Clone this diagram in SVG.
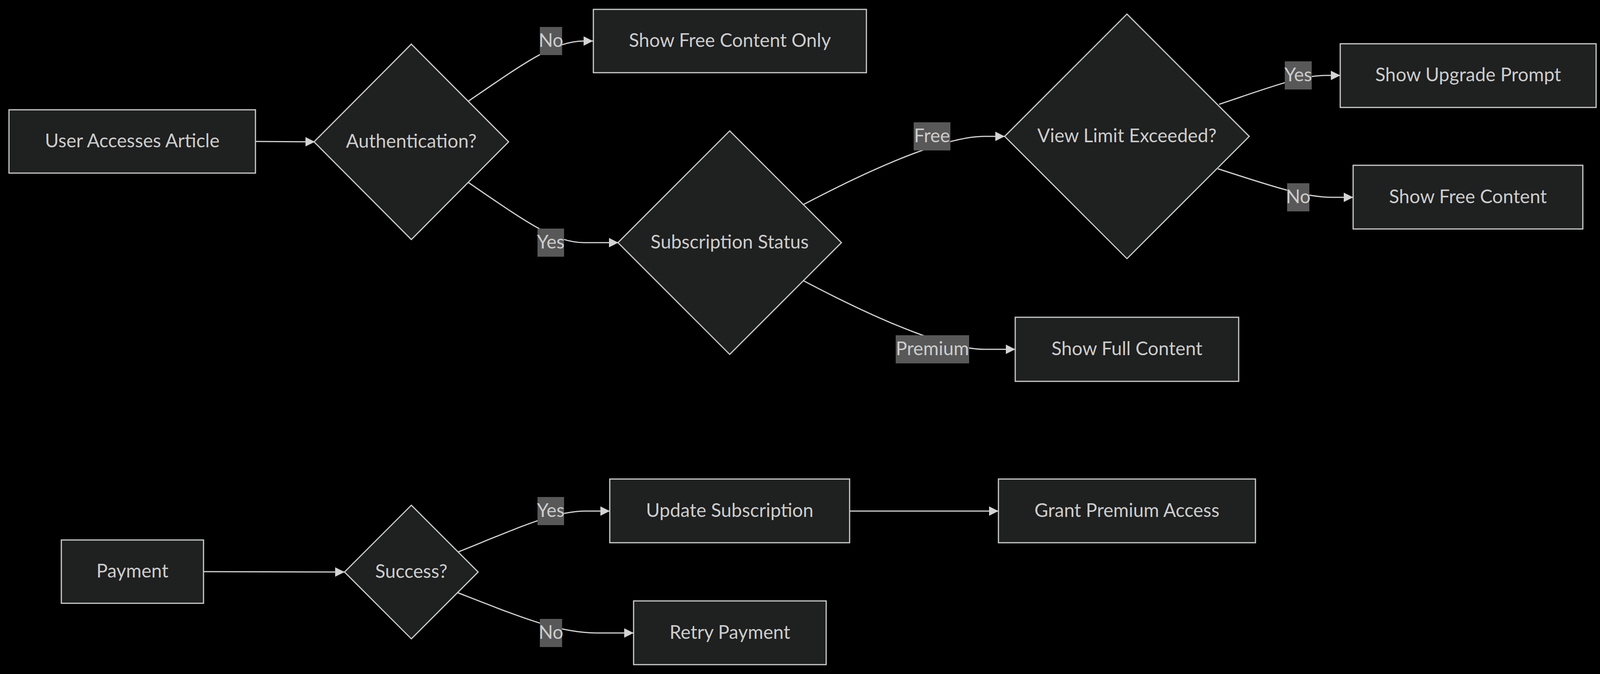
<svg xmlns="http://www.w3.org/2000/svg" width="4109" height="1725" viewBox="0 0 4109 1725">
<style>
.node rect,.node polygon{fill:#1f2020;stroke:#cccccc;stroke-width:3}
.node text{fill:#cccccc;font-family:Lato,"Liberation Sans",sans-serif;font-size:48px;text-anchor:middle}
.edge{fill:none;stroke:#d3d3d3;stroke-width:3;marker-end:url(#arrow)}
.lbl rect{fill:#585858}
.lbl text{fill:#cccccc;font-family:Lato,"Liberation Sans",sans-serif;font-size:48px;text-anchor:middle}
</style>
<defs>
<marker id="arrow" viewBox="0 0 10 10" refX="10" refY="5" markerUnits="userSpaceOnUse" markerWidth="24" markerHeight="24" orient="auto">
<path d="M0,0 L10,5 L0,10 z" fill="#d3d3d3"/>
</marker>
</defs>
<rect x="0" y="0" width="4109" height="1725" fill="#000000"/>
<g id="connectors">
<path class="edge" d="M654 362 L806 363"/>
<path class="edge" d="M1199 259 C1345 159,1420 105,1495 105 L1518 105"/>
<path class="edge" d="M1199 467 C1345 567,1420 621,1495 621 L1583 621"/>
<path class="edge" d="M2056 524 C2287 402,2440 349,2520 349 L2572 349"/>
<path class="edge" d="M2056 718 C2287 840,2440 894,2520 894 L2599 894"/>
<path class="edge" d="M3121 267 C3255 222,3330 193,3395 193 L3431 193"/>
<path class="edge" d="M3118 432 C3260 478,3340 505,3410 505 L3464 505"/>
<path class="edge" d="M521 1463 L882 1464"/>
<path class="edge" d="M1172 1413 C1336 1347,1420 1308,1500 1308 L1561 1308"/>
<path class="edge" d="M1172 1517 C1339 1582,1430 1620,1530 1620 L1622 1620"/>
<path class="edge" d="M2175 1308 L2556 1308"/>
</g>
<g id="edge-labels">
<g class="lbl"><rect x="1382" y="69" width="57" height="72"/><text x="1410.5" y="120">No</text></g>
<g class="lbl"><rect x="1376" y="585" width="68" height="72"/><text x="1410" y="636">Yes</text></g>
<g class="lbl"><rect x="2339" y="313" width="94" height="72"/><text x="2386" y="364">Free</text></g>
<g class="lbl"><rect x="2293" y="858" width="188" height="72"/><text x="2387" y="909">Premium</text></g>
<g class="lbl"><rect x="3289" y="157" width="69" height="72"/><text x="3323.5" y="208">Yes</text></g>
<g class="lbl"><rect x="3295" y="469" width="57" height="72"/><text x="3323.5" y="520">No</text></g>
<g class="lbl"><rect x="1376" y="1272" width="68" height="72"/><text x="1410" y="1323">Yes</text></g>
<g class="lbl"><rect x="1382" y="1584" width="57" height="72"/><text x="1410.5" y="1635">No</text></g>
</g>
<g id="n-user" class="node"><rect x="23" y="281" width="631" height="162"/><text x="338.5" y="377">User Accesses Article</text></g>
<g id="n-auth" class="node"><polygon points="1053,113 1302,363 1053,613 804,363"/><text x="1053" y="378">Authentication?</text></g>
<g id="n-freeonly" class="node"><rect x="1519" y="24" width="699" height="162"/><text x="1868.5" y="120">Show Free Content Only</text></g>
<g id="n-sub" class="node"><polygon points="1868,335 2154,621 1868,907 1582,621"/><text x="1868" y="636">Subscription Status</text></g>
<g id="n-full" class="node"><rect x="2599" y="812" width="572" height="164"/><text x="2885" y="909">Show Full Content</text></g>
<g id="n-limit" class="node"><polygon points="2885,36 3198,349 2885,662 2572,349"/><text x="2885" y="364">View Limit Exceeded?</text></g>
<g id="n-upgrade" class="node"><rect x="3431" y="112" width="655" height="163"/><text x="3758.5" y="208">Show Upgrade Prompt</text></g>
<g id="n-free" class="node"><rect x="3464" y="423" width="588" height="163"/><text x="3758" y="520">Show Free Content</text></g>
<g id="n-payment" class="node"><rect x="157" y="1382" width="364" height="162"/><text x="339" y="1478">Payment</text></g>
<g id="n-success" class="node"><polygon points="1053,1293 1224,1464 1053,1635 882,1464"/><text x="1053" y="1479">Success?</text></g>
<g id="n-update" class="node"><rect x="1561" y="1226" width="614" height="163"/><text x="1868" y="1323">Update Subscription</text></g>
<g id="n-grant" class="node"><rect x="2556" y="1226" width="658" height="163"/><text x="2885" y="1323">Grant Premium Access</text></g>
<g id="n-retry" class="node"><rect x="1622" y="1538" width="493" height="163"/><text x="1868.5" y="1635">Retry Payment</text></g>
</svg>
